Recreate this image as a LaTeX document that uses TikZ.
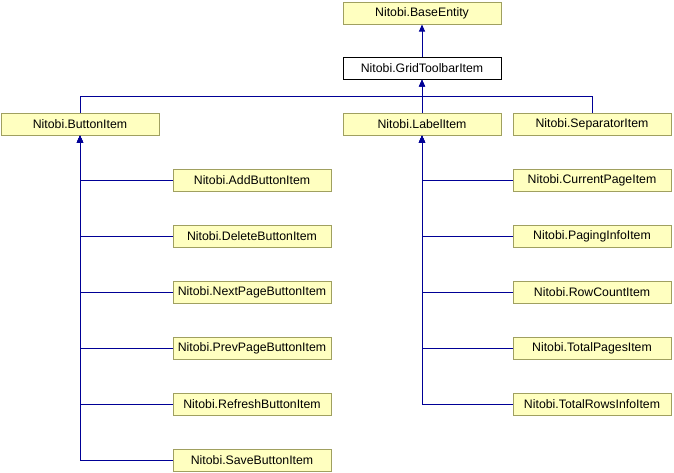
\documentclass[tikz,border=0pt]{standalone}
\usepackage{fontspec}
\setmainfont{Liberation Sans}
\usetikzlibrary{arrows.meta,positioning}
\definecolor{boxfill}{RGB}{255,255,192}
\definecolor{boxline}{RGB}{160,160,96}
\definecolor{edgeblue}{RGB}{0,0,150}
\begin{document}
\begin{tikzpicture}[x=1pt,y=1pt,node distance=56pt,
  line width=1pt,
  class node/.style={rectangle,draw=boxline,fill=boxfill,minimum width=158pt,
    minimum height=22pt,inner sep=0pt,font=\fontsize{12.3}{14}\selectfont},
  main node/.style={class node,draw=black,fill=white},
  inherit/.style={draw=edgeblue,-{Triangle[length=7pt,width=6pt]}}]
  \useasboundingbox (0,0) rectangle (674,-472);

  \node[class node] (base) at (422,-13) {Nitobi.BaseEntity};
  \node[main node] (grid) at (422,-68) {Nitobi.GridToolbarItem};
  \node[class node] (button) at (80,-124) {Nitobi.ButtonItem};
  \node[class node] (label) at (422,-124) {Nitobi.LabelItem};
  \node[class node] (sep) at (592,-124) {Nitobi.SeparatorItem};
  \coordinate (bus) at (422,-96);

  % button children
  \node[class node] (add) at (252,-180) {Nitobi.AddButtonItem};
  \node[class node] (delete) [below of=add] {Nitobi.DeleteButtonItem};
  \node[class node] (next) [below of=delete] {Nitobi.NextPageButtonItem};
  \node[class node] (prev) [below of=next] {Nitobi.PrevPageButtonItem};
  \node[class node] (refresh) [below of=prev] {Nitobi.RefreshButtonItem};
  \node[class node] (save) [below of=refresh] {Nitobi.SaveButtonItem};

  % label children
  \node[class node] (current) at (592,-180) {Nitobi.CurrentPageItem};
  \node[class node] (paging) [below of=current] {Nitobi.PagingInfoItem};
  \node[class node] (rowcount) [below of=paging] {Nitobi.RowCountItem};
  \node[class node] (totalpages) [below of=rowcount] {Nitobi.TotalPagesItem};
  \node[class node] (totalrows) [below of=totalpages] {Nitobi.TotalRowsInfoItem};

  \draw[inherit] (grid) -- (base);
  \draw[inherit] (label) -- (grid);
  \draw[inherit] (button.north) |- (bus) -- (grid.south);
  \draw[draw=edgeblue] (sep.north) |- (bus);

  \foreach \n in {add,delete,next,prev,refresh,save}
    \draw[inherit] (\n.west) -| (button.south);
  \foreach \n in {current,paging,rowcount,totalpages,totalrows}
    \draw[inherit] (\n.west) -| (label.south);
\end{tikzpicture}
\end{document}
